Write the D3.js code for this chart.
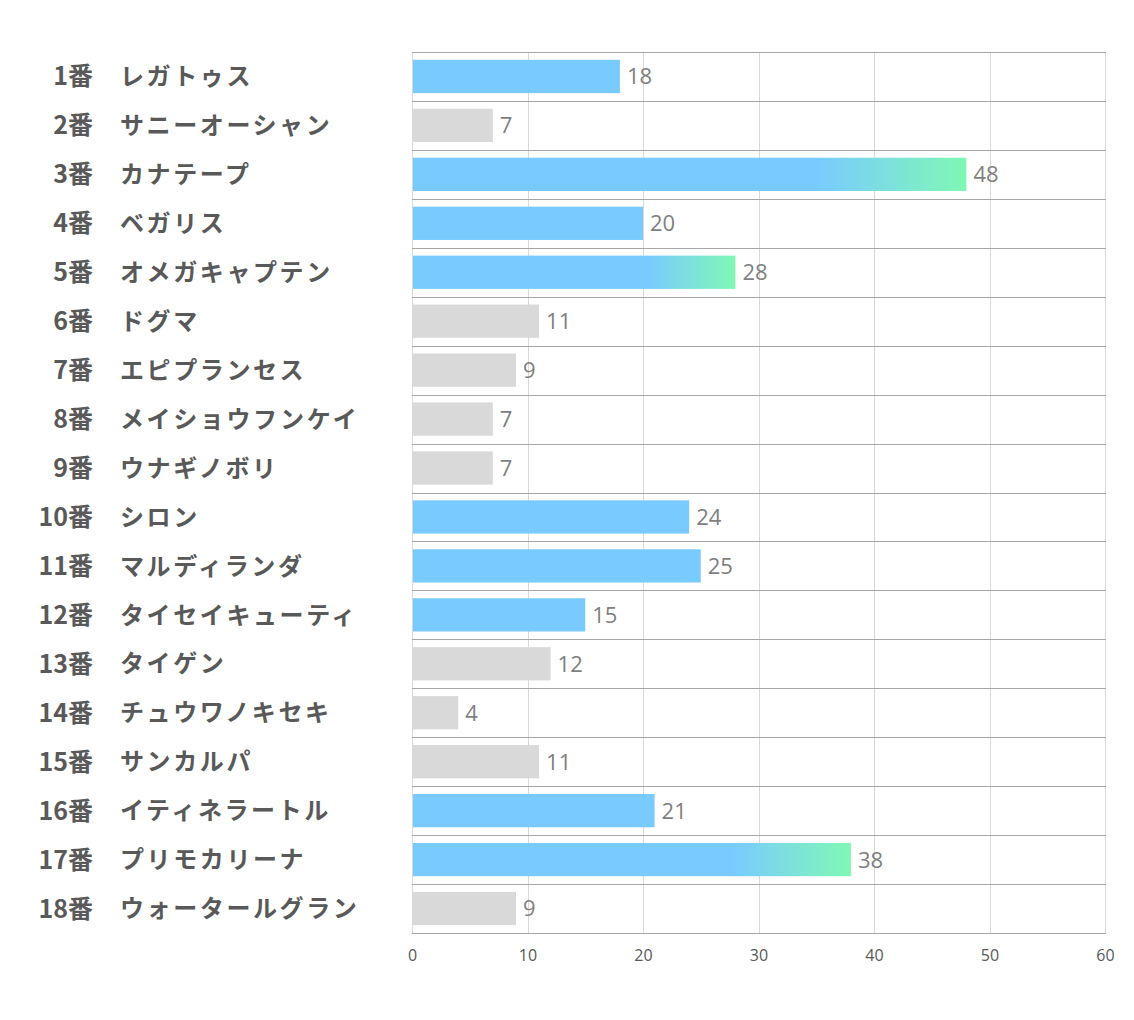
<!DOCTYPE html>
<html>
<head>
<meta charset="utf-8">
<script src="https://cdn.jsdelivr.net/npm/d3@7"></script>
<style>
  body { margin: 0; background: #fff; }
</style>
</head>
<body>
<div id="chart"></div>
<script>
var w = 1134,
    h = 1020;

var numbers = ["1番","2番","3番","4番","5番","6番","7番","8番","9番","10番","11番","12番","13番","14番","15番","16番","17番","18番"];
var horses = ["レガトゥス","サニーオーシャン","カナテープ","ベガリス","オメガキャプテン","ドグマ","エピプランセス","メイショウフンケイ","ウナギノボリ","シロン","マルディランダ","タイセイキューティ","タイゲン","チュウワノキセキ","サンカルパ","イティネラートル","プリモカリーナ","ウォータールグラン"];
var values = [18, 7, 48, 20, 28, 11, 9, 7, 7, 24, 25, 15, 12, 4, 11, 21, 38, 9];
var ticks = [0, 10, 20, 30, 40, 50, 60];

// plot box ("top" is taken by window.top, so use other names)
var plotL = 412, plotR = 1105, plotT = 52, plotB = 933;

var x = d3.scaleLinear().domain([0, 60]).range([plotL, plotR]);
var y = d3.scaleBand().domain(d3.range(values.length)).range([plotT, plotB]).paddingInner(0.32).paddingOuter(0.16);
var rows = d3.scaleBand().domain(d3.range(values.length)).range([plotT, plotB]);

var svg = d3.select("#chart").append("svg")
    .attr("width", w)
    .attr("height", h);

var defs = svg.append("defs");
var grad = defs.append("linearGradient").attr("id", "hot").
    attr("x1", "0%").attr("x2", "100%").attr("y1", "0%").attr("y2", "0%");
grad.append("stop").attr("offset", "73%").attr("stop-color", "#79cbff");
grad.append("stop").attr("offset", "100%").attr("stop-color", "#7ff8b4");

function fillFor(v) {
  if (v >= 28) return "url(#hot)";
  if (v >= 15) return "#79cbff";
  return "#d9d9d9";
}

// vertical grid
svg.append("g").selectAll("line").data(ticks).enter().append("line").
    attr("x1", function(d){ return Math.round(x(d)) + 0.5; }).
    attr("x2", function(d){ return Math.round(x(d)) + 0.5; }).
    attr("y1", plotT).attr("y2", plotB).
    attr("stroke", "#d9d9d9").attr("stroke-width", 1);

// row separators
var seps = d3.range(values.length + 1);
svg.append("g").selectAll("line").data(seps).enter().append("line").
    attr("x1", plotL).attr("x2", plotR + 1).
    attr("y1", function(d){ return Math.round(plotT + d * rows.bandwidth()) + 0.5; }).
    attr("y2", function(d){ return Math.round(plotT + d * rows.bandwidth()) + 0.5; }).
    attr("stroke", "#a6a6a6").attr("stroke-width", 1);

// bars
svg.append("g").selectAll("rect").data(values).enter().append("rect").
    attr("x", x(0) + 1).
    attr("y", function(d, i){ return y(i); }).
    attr("width", function(d){ return x(d) - x(0) - 1; }).
    attr("height", y.bandwidth()).
    attr("fill", fillFor);

// value labels
svg.append("g").selectAll("text").data(values).enter().append("text").
    attr("x", function(d){ return x(d) + 7; }).
    attr("y", function(d, i){ return y(i) + y.bandwidth() / 2; }).
    attr("dy", "0.36em").
    style("font-family", "'Open Sans', sans-serif").
    style("font-size", "22px").
    style("fill", "#7f7f7f").
    text(function(d){ return d; });

// category labels
var labels = svg.append("g").
    style("font-family", "'Noto Sans CJK JP', sans-serif").
    style("font-weight", "bold").
    style("fill", "#595959");

labels.selectAll("text.num").data(numbers).enter().append("text").
    attr("class", "num").
    attr("x", 93).
    attr("y", function(d, i){ return rows(i) + rows.bandwidth() / 2; }).
    attr("dy", "0.36em").
    attr("text-anchor", "end").
    style("font-size", "25px").
    text(function(d){ return d; });

labels.selectAll("text.name").data(horses).enter().append("text").
    attr("class", "name").
    attr("x", 120).
    attr("y", function(d, i){ return rows(i) + rows.bandwidth() / 2; }).
    attr("dy", "0.36em").
    style("font-size", "24px").
    style("letter-spacing", "2.6px").
    text(function(d){ return d; });

// x axis labels
var axis = d3.axisBottom(x).tickValues(ticks).tickSize(0).tickPadding(17);
var ax = svg.append("g").attr("transform", "translate(0," + plotB + ")").call(axis);
ax.select(".domain").remove();
ax.selectAll("text").
    style("font-family", "'Open Sans', sans-serif").
    style("font-size", "16px").
    style("fill", "#595959");
</script>
</body>
</html>
